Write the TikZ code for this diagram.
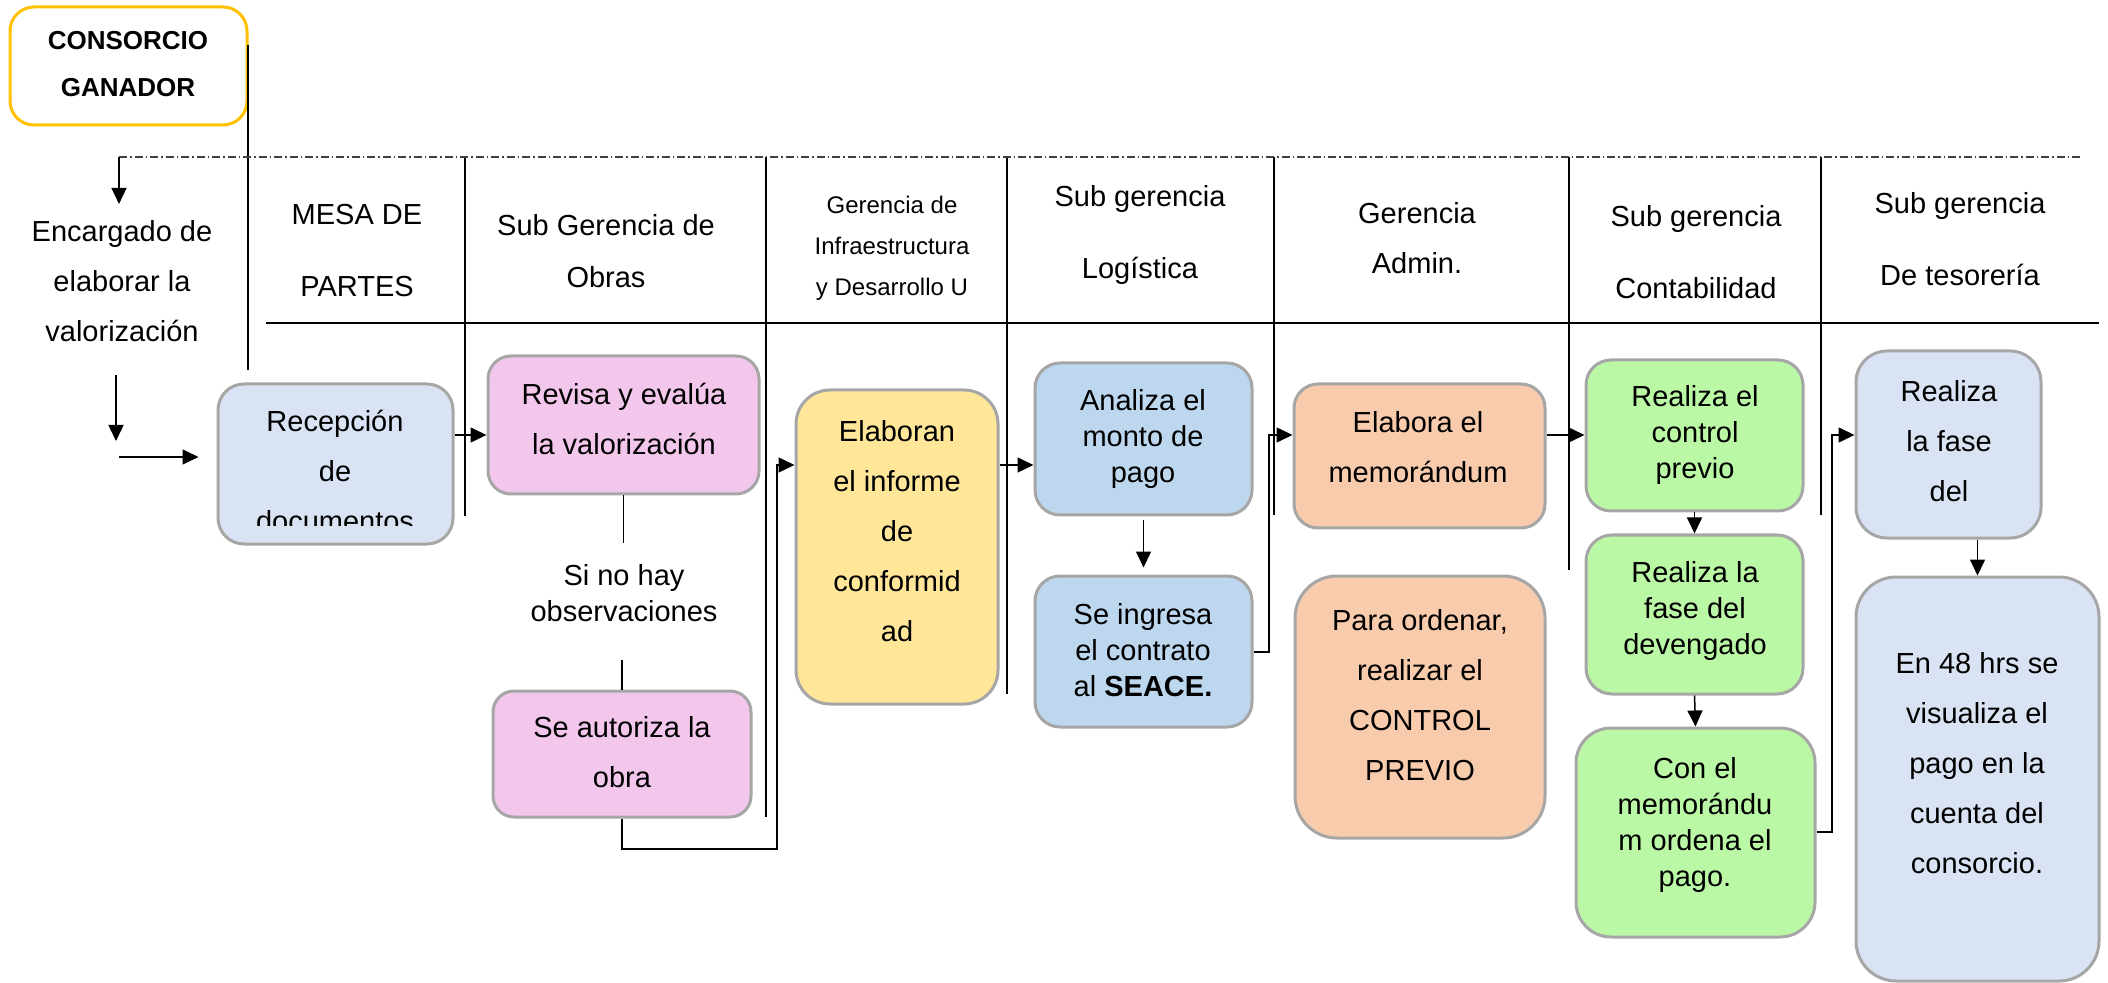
\documentclass[tikz,border=0pt]{standalone}
\usepackage{fontspec}
\setmainfont{Liberation Sans}
\usetikzlibrary{arrows.meta,fit}

\definecolor{lavblue}{RGB}{218,227,243}
\definecolor{pinkbox}{RGB}{243,199,236}
\definecolor{yelbox}{RGB}{255,230,153}
\definecolor{skybox}{RGB}{189,215,238}
\definecolor{peachbox}{RGB}{248,203,173}
\definecolor{greenbox}{RGB}{187,248,166}
\definecolor{edgegray}{RGB}{166,166,166}
\definecolor{gold}{RGB}{255,192,0}

\tikzset{
  box/.style={draw=edgegray, line width=1.5pt, inner sep=0pt},
  wide/.style={align=center, inner sep=0pt, font=\fontsize{14.5}{25}\selectfont},
  tight/.style={align=center, inner sep=0pt, font=\fontsize{14.5}{18}\selectfont},
  loose/.style={align=center, inner sep=0pt, font=\fontsize{14.5}{36}\selectfont},
  arr/.style={-{Triangle[length=8pt,width=7.5pt]}, line width=0.75pt},
  lane/.style={line width=0.65pt},
  dashdot/.style={line width=0.6pt, draw=black!75, dash pattern=on 4pt off 1.5pt on 0.75pt off 1.5pt},
}

\begin{document}
\begin{tikzpicture}[x=0.5pt,y=-0.5pt]
  \useasboundingbox (0,0) rectangle (2108,983);

  % headers
  \node[draw=gold, line width=1.5pt, rounded corners=12pt, inner sep=0pt, fit={(10,7) (247,125)}] (con) {};
  \node[align=center, inner sep=0pt, font=\bfseries\fontsize{13}{23.5}\selectfont] (cont0) at (128,64) {CONSORCIO\\GANADOR};
  \node[wide] (enc) at (122,281) {Encargado de\\elaborar la\\valorización};
  \node[loose] (mesa) at (357,251) {MESA DE\\PARTES};
  \node[align=center, inner sep=0pt, font=\fontsize{14.5}{26}\selectfont] (obr) at (606,251) {Sub Gerencia de\\Obras};
  \node[align=center, inner sep=0pt, font=\fontsize{12}{20.5}\selectfont] (inf) at (892,248)
    {Gerencia de\\Infraestructura\\y Desarrollo U};
  \node[loose] (log) at (1140,235) {Sub gerencia\\Logística};
  \node[wide] (adm) at (1417,238) {Gerencia\\Admin.};
  \node[loose] (cont) at (1696,252) {Sub gerencia\\Contabilidad};
  \node[loose] (tes) at (1960,239) {Sub gerencia\\De tesorería};

  \begin{scope}[lane]
    \draw (248,45) -- (248,370);
    \draw (465,157) -- (465,516);
    \draw (766,157) -- (766,817);
    \draw (1007,157) -- (1007,694);
    \draw (1274,157) -- (1274,515);
    \draw (1569,157) -- (1569,570);
    \draw (1821,157) -- (1821,515);
    \draw (266,323) -- (2099,323);
  \end{scope}

  \coordinate (dd) at (119,157);
  \draw[dashdot] (dd) -- (2080,157);
  \draw[arr, shorten >=8pt] (dd) -- (dd |- enc.north);

  % boxes
  \node[box, fill=lavblue, rounded corners=13pt, fit={(218,384) (453,544)}] (rec) {};
  \begin{scope}
    \clip (rec.north west) rectangle (rec.east |- 0,526);
    \node[wide] (rect) at (335,471) {Recepción\\de\\documentos};
  \end{scope}

  \node[box, fill=pinkbox, rounded corners=11.5pt, fit={(488,356) (759,494)}] (rev) {};
  \node[wide] (revt) at (624,419) {Revisa y evalúa\\la valorización};
  \node[tight] (obs) at (624,593) {Si no hay\\observaciones};
  \node[box, fill=pinkbox, rounded corners=10.5pt, fit={(493,691) (751,817)}] (aut) {};
  \node[wide] (autt) at (622,752) {Se autoriza la\\obra};

  \node[box, fill=yelbox, rounded corners=17pt, fit={(796,390) (998,704)}] (elab) {};
  \node[wide] (elabt) at (897,531) {Elaboran\\el informe\\de\\conformid\\ad};

  \node[box, fill=skybox, rounded corners=12.5pt, fit={(1035,363) (1252,515)}] (ana) {};
  \node[tight] (anat) at (1143,439) {Analiza el\\monto de\\pago};
  \node[box, fill=skybox, rounded corners=12.5pt, fit={(1035,576) (1252,727)}] (ing) {};
  \node[tight] (ingt) at (1143,650) {Se ingresa\\el contrato\\al \textbf{SEACE.}};

  \node[box, fill=peachbox, rounded corners=12pt, fit={(1294,384) (1545,528)}] (memo) {};
  \node[wide] (memot) at (1418,447) {Elabora el\\memorándum};
  \node[box, fill=peachbox, rounded corners=21pt, fit={(1295,576) (1545,838)}] (ord) {};
  \node[wide] (ordt) at (1420,695) {Para ordenar,\\realizar el\\CONTROL\\PREVIO};

  \node[box, fill=greenbox, rounded corners=12.5pt, fit={(1586,360) (1803,511)}] (cp) {};
  \node[tight] (cpt) at (1695,435) {Realiza el\\control\\previo};
  \node[box, fill=greenbox, rounded corners=13pt, fit={(1586,535) (1803,694)}] (dev) {};
  \node[tight] (devt) at (1695,611) {Realiza la\\fase del\\devengado};
  \node[box, fill=greenbox, rounded corners=17.5pt, fit={(1576,728) (1815,937)}] (pag) {};
  \node[tight] (pagt) at (1695,825) {Con el\\memorándu\\m ordena el\\pago.};

  \node[box, fill=lavblue, rounded corners=15.5pt, fit={(1856,351) (2041,538)}] (fase) {};
  \node[wide] (faset) at (1949,441) {Realiza\\la fase\\del};
  \node[box, fill=lavblue, rounded corners=20pt, fit={(1856,577) (2099,981)}] (vis) {};
  \node[wide] (vist) at (1977,763) {En 48 hrs se\\visualiza el\\pago en la\\cuenta del\\consorcio.};

  % connectors
  \draw[arr] (116,375) -- (116,441);
  \draw[arr, shorten >=9pt] (119,457) -- (rec.west |- 0,457);
  \draw[arr] (rec.east |- 0,435) -- (rev.west |- 0,435);
  \draw[lane] (rev.south) -- (rev.south |- 0,543);
  \draw[lane] (aut.north |- 0,660) -- (aut.north);
  \draw[arr] (aut.south) |- (777,849) |- (elab.west |- 0,465);
  \draw[arr] (elab.east |- 0,465) -- (ana.west |- 0,465);
  \draw[arr, shorten <=2pt, shorten >=3.5pt] (ana.south) -- (ing.north);
  \draw[arr] (ing.east |- 0,652) -| (1269,435) -- (memo.west |- 0,435);
  \draw[arr] (memo.east |- 0,435) -- (cp.west |- 0,435);
  \draw[arr] (cp.south) -- (dev.north);
  \draw[arr] (dev.south) -- (pag.north);
  \draw[arr] (pag.east |- 0,832) -| (1832,435) -- (fase.west |- 0,435);
  \draw[arr] (fase.south -| vis.north) -- (vis.north);
\end{tikzpicture}
\end{document}
